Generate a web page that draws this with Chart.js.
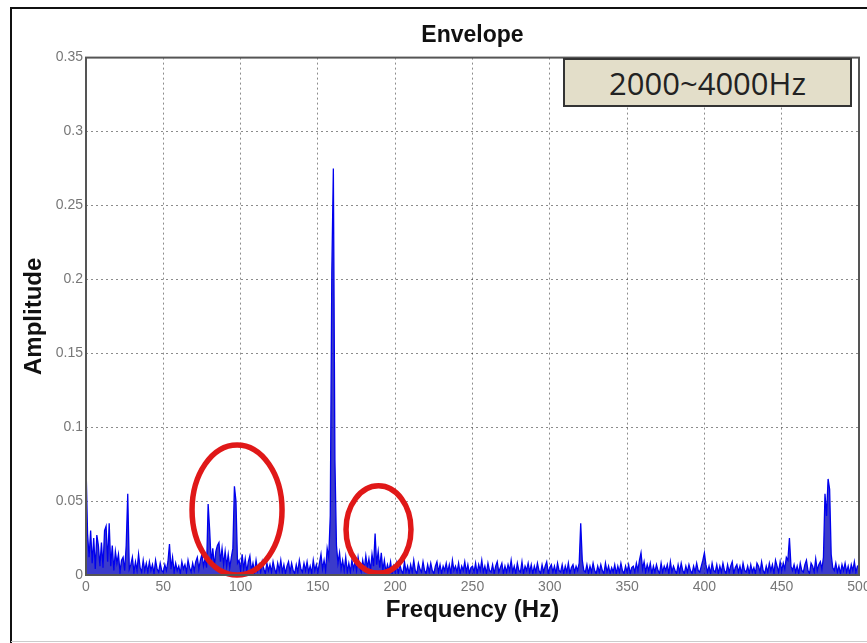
<!DOCTYPE html>
<html>
<head>
<meta charset="utf-8">
<script src="https://cdn.jsdelivr.net/npm/chart.js@4/dist/chart.umd.min.js"></script>
<style>
  body { margin: 0; background: #fff; }
  #wrap { position: relative; width: 867px; height: 643px; overflow: hidden; }
  #band {
    position: absolute; left: 563px; top: 58px; width: 285px; height: 45px;
    background: #e3dec9; border: 2px solid #333;
    font: 31px "Open Sans", "Noto Sans", sans-serif; color: #222;
    display: flex; align-items: center; justify-content: center;
  }
</style>
</head>
<body>
<div id="wrap">
  <canvas id="envelopeChart" width="867" height="643"></canvas>
  <div id="band">2000~4000Hz</div>
</div>
<script>
// amplitude, one value per Hz from 0 to 500 (in thousandths)
const amplitudeMilli = [
  75, 28, 12, 30, 8, 25, 4, 27, 20, 6,
  22, 5, 30, 33, 9, 35, 6, 20, 3, 16,
  8, 14, 2, 10, 12, 3, 20, 55, 4, 7,
  12, 2, 9, 3, 14, 5, 2, 10, 3, 8,
  2, 9, 3, 7, 1, 10, 4, 2, 8, 3,
  2, 7, 3, 9, 21, 4, 12, 2, 8, 3,
  6, 1, 9, 4, 7, 2, 10, 5, 2, 8,
  3, 9, 12, 4, 10, 14, 6, 11, 5, 48,
  30, 8, 18, 6, 16, 20, 22, 9, 18, 7,
  16, 6, 14, 5, 12, 18, 60, 50, 8, 10,
  3, 14, 4, 11, 2, 9, 13, 3, 8, 2,
  10, 3, 7, 2, 9, 4, 1, 8, 3, 7,
  2, 9, 4, 1, 8, 3, 10, 2, 7, 1,
  6, 9, 2, 8, 3, 1, 7, 2, 10, 4,
  2, 8, 3, 9, 2, 6, 1, 10, 3, 7,
  2, 8, 14, 4, 10, 3, 18, 12, 40, 205,
  275, 78, 20, 8, 15, 4, 10, 3, 12, 2,
  8, 2, 10, 4, 9, 3, 12, 5, 2, 10,
  4, 13, 5, 11, 3, 14, 6, 28, 7, 16,
  5, 15, 3, 10, 2, 7, 3, 9, 1, 6,
  2, 8, 1, 7, 3, 1, 9, 2, 6, 1,
  7, 2, 10, 3, 1, 8, 4, 2, 9, 3,
  1, 7, 2, 8, 3, 1, 6, 9, 2, 7,
  1, 6, 3, 8, 2, 7, 1, 10, 3, 6,
  2, 8, 1, 6, 3, 9, 2, 7, 1, 5,
  6, 2, 8, 1, 7, 3, 10, 2, 6, 1,
  8, 3, 2, 7, 1, 6, 9, 2, 5, 8,
  1, 6, 2, 7, 3, 10, 2, 6, 1, 8,
  3, 2, 9, 1, 6, 3, 8, 2, 7, 1,
  6, 2, 8, 3, 1, 7, 2, 6, 9, 1,
  5, 7, 2, 6, 1, 8, 3, 2, 7, 1,
  6, 2, 8, 1, 5, 7, 2, 6, 3, 8,
  35, 10, 3, 2, 7, 1, 6, 2, 8, 3,
  1, 6, 2, 7, 3, 1, 8, 2, 6, 1,
  5, 2, 7, 1, 6, 2, 8, 3, 1, 6,
  2, 7, 1, 5, 6, 2, 8, 3, 10, 15,
  4, 9, 2, 7, 3, 8, 1, 6, 2, 7,
  3, 1, 8, 2, 6, 3, 7, 1, 9, 2,
  6, 3, 1, 7, 2, 8, 3, 1, 6, 2,
  7, 3, 1, 6, 2, 8, 3, 2, 6, 10,
  15, 7, 2, 6, 1, 8, 3, 2, 7, 1,
  6, 2, 8, 3, 1, 7, 2, 6, 9, 1,
  5, 7, 2, 6, 1, 8, 3, 2, 6, 1,
  7, 2, 5, 1, 8, 6, 2, 9, 3, 1,
  6, 2, 8, 3, 7, 1, 10, 6, 2, 9,
  3, 8, 4, 12, 10, 25, 6, 3, 7, 2,
  6, 1, 8, 3, 2, 7, 10, 3, 1, 8,
  6, 2, 11, 3, 7, 9, 4, 12, 55, 40,
  65, 58, 14, 5, 3, 8, 2, 6, 1, 7,
  3, 8, 2, 6, 1, 7, 3, 9, 2, 6,
  5
];
const amplitude = amplitudeMilli.map(v => v / 1000);
const frequency = amplitude.map((_, i) => i);

const xTicks = [0, 50, 100, 150, 200, 250, 300, 350, 400, 450, 500];
const yTicks = [0, 0.05, 0.1, 0.15, 0.2, 0.25, 0.3, 0.35];

// red rings drawn over the spectrum (centre and radii in data units)
const ringFreq = [97.7, 189.2];
const ringAmp = [0.044, 0.0308];
const ringRadFreq = [29.1, 21];
const ringRadAmp = [0.044, 0.0295];

const framePlugin = {
  id: 'frame',
  beforeDraw(chart) {
    const c = chart.ctx;
    c.save();
    c.fillStyle = '#fff';
    c.fillRect(0, 0, chart.width, chart.height);
    c.strokeStyle = '#111';
    c.lineWidth = 2;
    c.beginPath();
    c.moveTo(11, 643);
    c.lineTo(11, 8);
    c.lineTo(867, 8);
    c.stroke();
    c.strokeStyle = '#ccc';
    c.lineWidth = 1;
    c.beginPath();
    c.moveTo(11, 641.5);
    c.lineTo(867, 641.5);
    c.stroke();
    c.restore();
  },
  afterDatasetsDraw(chart) {
    const c = chart.ctx;
    const x = chart.scales.x, y = chart.scales.y;
    const a = chart.chartArea;
    c.save();
    c.strokeStyle = '#e01818';
    c.lineWidth = 5.5;
    ringFreq.forEach((f, i) => {
      const cx = x.getPixelForValue(f);
      const cy = y.getPixelForValue(ringAmp[i]);
      const rx = x.getPixelForValue(f + ringRadFreq[i]) - cx;
      const ry = cy - y.getPixelForValue(ringAmp[i] + ringRadAmp[i]);
      c.beginPath();
      c.ellipse(cx, cy, rx, ry, 0, 0, Math.PI * 2);
      c.stroke();
    });
    c.strokeStyle = '#555';
    c.lineWidth = 2;
    c.strokeRect(a.left, a.top, a.right - a.left, a.bottom - a.top);
    c.restore();
  }
};

const ctx = document.getElementById('envelopeChart').getContext('2d');
const chart = new Chart(ctx, {
  type: 'line',
  data: {
    labels: frequency,
    datasets: [{
      label: 'Envelope',
      data: frequency.map((f, i) => ({ x: f, y: amplitude[i] })),
      borderColor: '#0000ee',
      backgroundColor: 'rgba(10,10,190,0.8)',
      borderWidth: 1.3,
      pointRadius: 0,
      tension: 0,
      fill: 'origin'
    }]
  },
  options: {
    responsive: false,
    animation: false,
    layout: { padding: { right: 8 } },
    plugins: {
      legend: { display: false },
      tooltip: { enabled: false },
      title: {
        display: true,
        fullSize: false,
        text: 'Envelope',
        color: '#111',
        font: { family: 'Liberation Sans', size: 23, weight: 'bold' },
        padding: { top: 22, bottom: 8 }
      }
    },
    scales: {
      x: {
        type: 'linear',
        min: 0,
        max: 500,
        afterBuildTicks: s => { s.ticks = xTicks.map(v => ({ value: v })); },
        afterFit: s => { s.height = 68; s.paddingRight = 0; s.paddingLeft = 0; },
        ticks: {
          color: '#777',
          font: { family: 'Liberation Sans', size: 14 },
          padding: 4,
          maxRotation: 0
        },
        grid: { color: 'rgba(0,0,0,0.45)', drawTicks: false, tickLength: 0 },
        border: { display: false, dash: [2, 3] },
        title: {
          display: true,
          text: 'Frequency (Hz)',
          color: '#111',
          font: { family: 'Liberation Sans', size: 24, weight: 'bold' },
          padding: { top: 0, bottom: 18 }
        }
      },
      y: {
        min: 0,
        max: 0.35,
        afterBuildTicks: s => { s.ticks = yTicks.map(v => ({ value: v })); },
        afterFit: s => { s.width = 86; },
        ticks: {
          color: '#777',
          font: { family: 'Liberation Sans', size: 14 },
          padding: 3,
          callback: v => String(+v.toFixed(2))
        },
        grid: { color: 'rgba(0,0,0,0.45)', drawTicks: false, tickLength: 0 },
        border: { display: false, dash: [2, 3] },
        title: {
          display: true,
          text: 'Amplitude',
          color: '#111',
          font: { family: 'Liberation Sans', size: 24, weight: 'bold' },
          padding: { top: 20, bottom: 0 }
        }
      }
    }
  },
  plugins: [framePlugin]
});
</script>
</body>
</html>
